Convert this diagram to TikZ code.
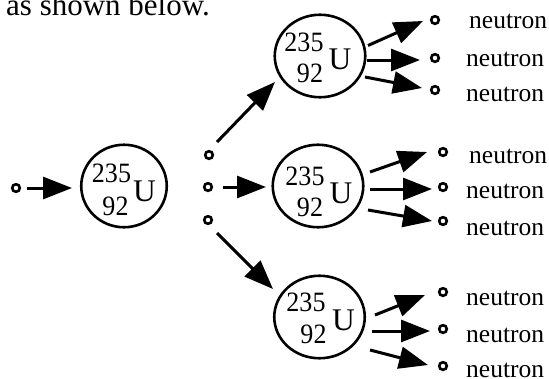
\documentclass[tikz,border=0pt]{standalone}
\usepackage{fontspec}
\setmainfont{Liberation Serif}
\newfontfamily\nucfont[FakeStretch=0.93]{Liberation Serif}
\usetikzlibrary{arrows.meta,shapes.geometric}
\begin{document}
\begin{tikzpicture}[x=1pt,y=-1pt,
  nucleus/.style={ellipse, draw, line width=2.6pt, minimum width=90.5pt, minimum height=82.5pt, inner sep=0pt},
  neut/.style={circle, draw, line width=2.6pt, minimum size=7.6pt, inner sep=0pt},
  arr/.style={line width=3pt, -{Triangle[length=29pt,width=22pt]}},
  mass/.style={inner sep=0pt, font=\nucfont\fontsize{28}{28}\selectfont},
  elem/.style={inner sep=0pt, font=\fontsize{31.5}{31.5}\selectfont},
  lbl/.style={inner sep=0pt, anchor=base west, font=\fontsize{25.5}{26}\selectfont},
  title/.style={inner sep=0pt, anchor=base west, font=\fontsize{31}{31}\selectfont}]
\useasboundingbox (0,0) rectangle (549,378);
\fill[white] (0,0) rectangle (549,378);

\node[title] (ttl) at (6,15) {as shown below.};

% nuclei
\node[nucleus, minimum width=85.5pt] (N0) at (124,186) {};
\node[nucleus] (N1) at (320,56) {};
\node[nucleus] (N2) at (318,186) {};
\node[nucleus] (N3) at (319.5,317) {};

\node[mass] (m0) at (111.5,173) {235};
\node[mass] (z0) at (115.5,206) {92};
\node[elem] (u0) at (144.5,191) {U};

\node[mass] (m1) at (304,42) {235};
\node[mass] (z1) at (310,73.5) {92};
\node[elem] (u1) at (340,59.5) {U};

\node[mass] (m2) at (305,176) {235};
\node[mass] (z2) at (310,207.5) {92};
\node[elem] (u2) at (341,193) {U};

\node[mass] (m3) at (306,302.5) {235};
\node[mass] (z3) at (313.5,334) {92};
\node[elem] (u3) at (343.5,320) {U};

% incoming neutrons
\node[neut] (n0) at (16,188) {};
\node[neut] (na) at (209,155) {};
\node[neut] (nb) at (208,187) {};
\node[neut] (nc) at (208,220) {};

\coordinate (s0) at (27,188);   \coordinate (e0) at (72,188);
\coordinate (sa) at (217,142);  \coordinate (ea) at (275,82);
\coordinate (sb) at (223,187);  \coordinate (eb) at (266,187);
\coordinate (sc) at (217,233);  \coordinate (ec) at (273,289);
\draw[arr] (s0) -- (e0);
\draw[arr] (sa) -- (ea);
\draw[arr] (sb) -- (eb);
\draw[arr] (sc) -- (ec);

% top group
\node[neut] (t1) at (435,20) {};
\node[neut] (t2) at (435,58) {};
\node[neut] (t3) at (435,90) {};
\node[lbl] (lt1) at (469,28) {neutron};
\node[lbl] (lt2) at (466,66) {neutron};
\node[lbl] (lt3) at (466,101) {neutron};
\coordinate (st1) at (368,45.5); \coordinate (et1) at (423,21);
\coordinate (st2) at (367,60);   \coordinate (et2) at (420,60);
\coordinate (st3) at (365,77);   \coordinate (et3) at (422,88);
\draw[arr] (st1) -- (et1);
\draw[arr] (st2) -- (et2);
\draw[arr] (st3) -- (et3);

% middle group
\node[neut] (c1) at (443,152) {};
\node[neut] (c2) at (443,187) {};
\node[neut] (c3) at (443,221) {};
\node[lbl] (lc1) at (469,163) {neutron};
\node[lbl] (lc2) at (466,198) {neutron};
\node[lbl] (lc3) at (466,235) {neutron};
\coordinate (sc1) at (370,172); \coordinate (ec1) at (427,152);
\coordinate (sc2) at (370,189); \coordinate (ec2) at (432,189);
\coordinate (sc3) at (368,210); \coordinate (ec3) at (432,221);
\draw[arr] (sc1) -- (ec1);
\draw[arr] (sc2) -- (ec2);
\draw[arr] (sc3) -- (ec3);

% bottom group
\node[neut] (b1) at (443,292) {};
\node[neut] (b2) at (443,329) {};
\node[neut] (b3) at (443,366) {};
\node[lbl] (lb1) at (466,305) {neutron};
\node[lbl] (lb2) at (466,342) {neutron};
\node[lbl] (lb3) at (466,377) {neutron};
\coordinate (sb1) at (375,315); \coordinate (eb1) at (425,295);
\coordinate (sb2) at (372,331); \coordinate (eb2) at (430,331);
\coordinate (sb3) at (370,350); \coordinate (eb3) at (428,365);
\draw[arr] (sb1) -- (eb1);
\draw[arr] (sb2) -- (eb2);
\draw[arr] (sb3) -- (eb3);
\end{tikzpicture}
\end{document}
